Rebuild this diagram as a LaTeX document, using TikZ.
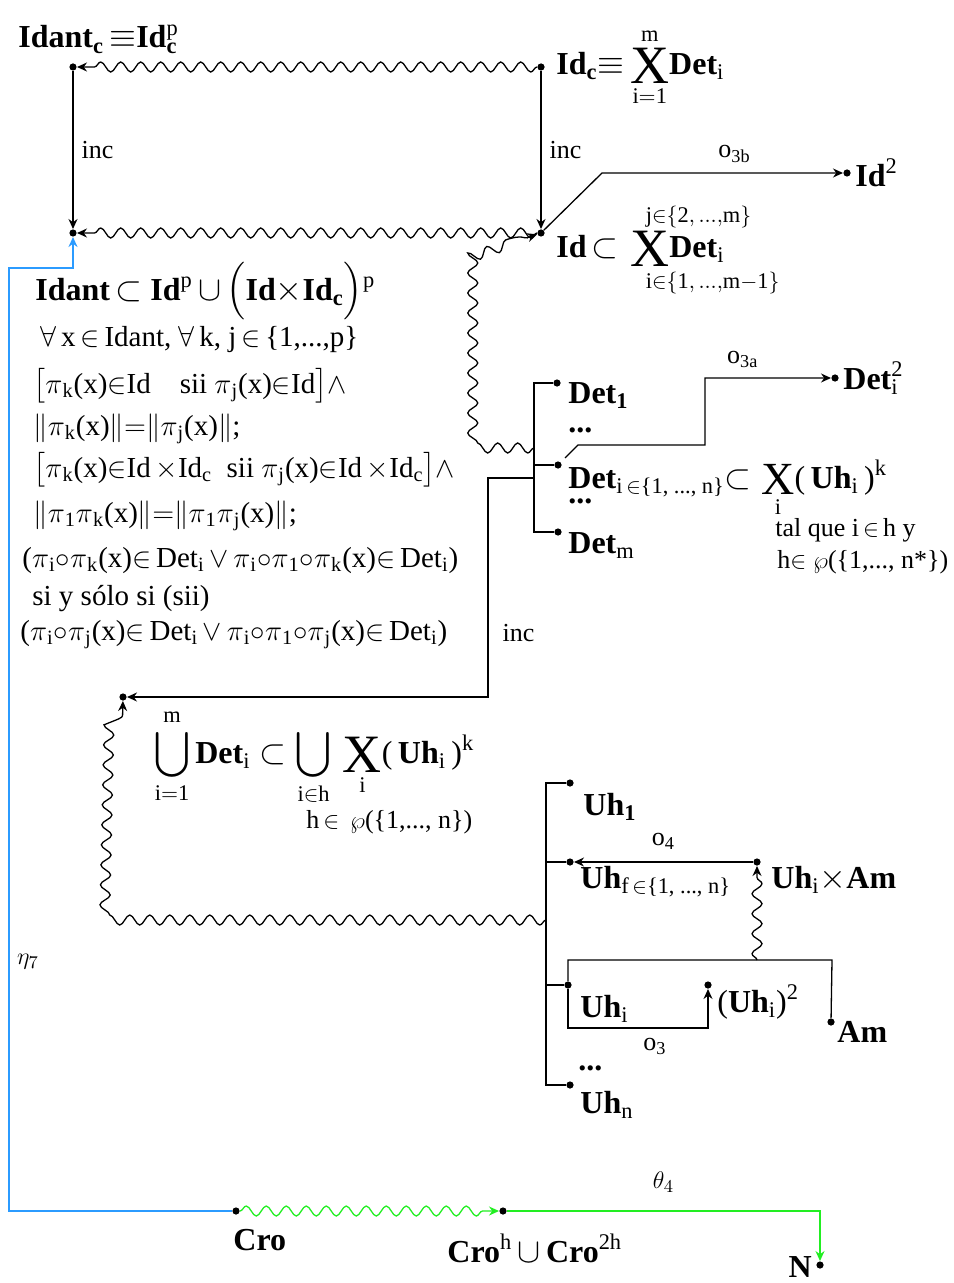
\documentclass[tikz,border=0pt]{standalone}
\usepackage{amsmath,amssymb,mathtools}
\usepackage{fontspec}
\setmainfont{Liberation Serif}
\usetikzlibrary{positioning,arrows.meta,decorations.pathmorphing}
\definecolor{skyline}{HTML}{2B9BFF}
\definecolor{limeline}{HTML}{22EE22}
\newcommand{\crossX}[1][27]{\mathop{\vcenter{\hbox{\mdseries\fontsize{#1}{#1}\selectfont X}}}\limits}
\tikzset{
  pt/.style={circle, fill=black, inner sep=0pt, minimum size=3.6pt},
  lab/.style={font=\fontsize{16}{19}\selectfont\bfseries, inner sep=0pt},
  txt/.style={font=\fontsize{13}{16}\selectfont, inner sep=0pt},
  fml/.style={font=\fontsize{14.5}{17}\selectfont, inner sep=0pt, anchor=base west},
  ln/.style={line width=0.65pt},
  ar/.style={ln, -{Stealth[length=5pt,width=4.5pt]}},
  wav/.style={ln, decorate, decoration={snake, amplitude=2.5pt, segment length=10pt, post length=5pt}},
  wavar/.style={wav, -{Stealth[length=5pt,width=4.5pt]}},
}
\begin{document}
\begin{tikzpicture}[x=0.5pt, y=-0.5pt]
\useasboundingbox (0,0) rectangle (953,1283);

% --- Id ---
\node[pt] (idantc) at (73,67) {};
\node[pt] (idc)    at (541,67) {};
\node[pt] (idant)  at (73,233) {};
\node[pt] (id)     at (541,233) {};
\node[pt] (idsq)   at (847,173) {};
\coordinate (o3bk) at (602,173);

\node[lab, anchor=base west] (lidantc) at (18,48)
  {Idant\textsubscript{c}\,$\equiv$Id\rlap{\textsubscript{c}}\textsuperscript{\mdseries p}};
\node[lab, anchor=west] (lidc) at (556,67)
  {Id\textsubscript{c}${\equiv}\displaystyle\crossX_{\mathrm{i=1}}^{\mathrm{m}}$Det\textsubscript{\mdseries i}};
\node[lab, anchor=west] (lid) at (556,250)
  {Id\,${\subset}\,\displaystyle\crossX_{\mathrlap{\kern-2pt\mathrm{i\in\{1,\,\ldots,m-1\}}}}^{\mathrlap{\kern-2pt\mathrm{j\in\{2,\,\ldots,m\}}}}$Det\textsubscript{\mdseries i}};
\node[lab, right=2pt of idsq] (lidsq) {Id\textsuperscript{\mdseries 2}};

\draw[wavar] (idc) -- (idantc);
\draw[ar] (idantc) -- node[txt, right=4pt] {inc} (idant);
\draw[ar] (idc) -- node[txt, right=4pt] {inc} (id);
\draw[wavar] (id) -- (idant);
\draw[ar] (id) -- (o3bk) -- node[txt, above=5pt, pos=0.55] {o\textsubscript{3b}} (idsq);

% --- Idant ---
\node[lab, anchor=base west] (f1) at (35,300)
  {Idant\,$\subset$\ Id\textsuperscript{\mdseries p}\,$\cup$\,$\Bigl($Id${\times}$Id\textsubscript{c}$\Bigr)$\textsuperscript{\mdseries p}};
\node[fml] (f2) at (40,346)
  {$\forall$\,x$\,\in\,$Idant, $\forall$\,k, j$\,\in\,$\{1,...,p\}};
\node[fml] (f3) at (33,393)
  {$\bigl[\pi$\textsubscript{k}(x)$\in$Id\quad sii $\pi$\textsubscript{j}(x)$\in$Id$\bigr]\wedge$};
\node[fml] (f4) at (33,435)
  {$\|\pi$\textsubscript{k}(x)$\|{=}\|\pi$\textsubscript{j}(x)$\|$;};
\node[fml] (f5) at (33,477)
  {$\bigl[\pi$\textsubscript{k}(x)$\in$Id$\,\times$Id\textsubscript{c}\ \ sii $\pi$\textsubscript{j}(x)$\in$Id$\,\times$Id\textsubscript{c}$\bigr]\wedge$};
\node[fml] (f6) at (33,522)
  {$\|\pi$\textsubscript{1}$\pi$\textsubscript{k}(x)$\|{=}\|\pi$\textsubscript{1}$\pi$\textsubscript{j}(x)$\|$;};
\node[fml] (f7) at (22,567)
  {($\pi$\textsubscript{i}$\circ\pi$\textsubscript{k}(x)$\in$\,Det\textsubscript{i}$\,\vee\,\pi$\textsubscript{i}$\circ\pi$\textsubscript{1}$\circ\pi$\textsubscript{k}(x)$\in$\,Det\textsubscript{i})};
\node[fml] (f8) at (32,605) {si y sólo si (sii)};
\node[fml] (f9) at (20,640)
  {($\pi$\textsubscript{i}$\circ\pi$\textsubscript{j}(x)$\in$\,Det\textsubscript{i}$\,\vee\,\pi$\textsubscript{i}$\circ\pi$\textsubscript{1}$\circ\pi$\textsubscript{j}(x)$\in$\,Det\textsubscript{i})};

% --- Det ---
\node[pt] (det1)  at (557,383) {};
\node[pt] (deti)  at (558,465) {};
\node[pt] (detm)  at (558,532) {};
\node[pt] (detsq) at (835,378) {};
\coordinate (dbt) at (534,383);
\coordinate (dbi) at (534,465);
\coordinate (dbb) at (534,532);
\coordinate (dbw) at (534,448);
\coordinate (dbinc) at (534,478);
\coordinate (w1) at (483,448);
\coordinate (w2) at (483,253);
\coordinate (i1) at (488,478);
\coordinate (i2) at (488,697);
\coordinate (a1) at (578,445);
\coordinate (a2) at (705,445);
\coordinate (a3) at (705,378);

\node[lab, anchor=base west] (ldet1) at (568,403) {Det\textsubscript{1}};
\node[lab, anchor=base west] at (568,432) {...};
\node[lab, anchor=base west] (ldeti) at (568,488)
  {Det\textsubscript{\mdseries i$\,\in$\{1, ..., n\}}$\subset\displaystyle\crossX[23]_{\mathrm{i}}${\mdseries(\,}Uh\textsubscript{\mdseries i}{\mdseries\,)}\textsuperscript{\mdseries k}};
\node[lab, anchor=base west] at (568,503) {...};
\node[lab, anchor=base west] (ldetm) at (568,553) {Det\textsubscript{\mdseries m}};
\node[lab, right=2pt of detsq] (ldetsq) {Det\rlap{\textsubscript{\mdseries i}}\textsuperscript{\mdseries 2}};
\node[txt, anchor=base west] (tq1) at (775,536) {tal que i$\,\in\,$h y};
\node[txt, anchor=base west] (tq2) at (777,568) {h$\in\wp$(\{1,..., n*\})};

\draw[ln] (det1) -- (dbt) -- (dbb) -- (detm);
\draw[ln] (dbi) -- (deti);
\draw[wavar] (dbw) -- (w1) -- (w2) -- (id);
\draw[ar, shorten <=3pt] (deti) -- (a1) -- (a2) -- (a3) -- node[txt, above=5pt, pos=0.3] {o\textsubscript{3a}} (detsq);

% --- union ---
\node[pt] (uni) at (123,697) {};
\node[lab, anchor=west] (luni) at (154,757)
  {$\displaystyle\bigcup_{\mathrm{i=1}}^{\mathrm{m}}$\,Det\textsubscript{\mdseries i}\;$\subset\displaystyle\bigcup_{\mathrm{i\in h}}\,\crossX_{\mathrm{i}}${\mdseries(\,}Uh\textsubscript{\mdseries i}{\mdseries\,)}\textsuperscript{\mdseries k}};
\node[txt, anchor=base west] (lh) at (306,828) {h$\,\in\,\wp$(\{1,..., n\})};
\draw[ar] (dbinc) -- (i1) -- node[txt, right=7pt, pos=0.71] {inc} (i2) -- (uni);

% --- Uh ---
\node[pt] (uh1)  at (570,783) {};
\node[pt] (uhf)  at (570,862) {};
\node[pt] (uhi)  at (568,985) {};
\node[pt] (uhn)  at (570,1085) {};
\node[pt] (uham) at (757,862) {};
\node[pt] (uhsq) at (708,985) {};
\node[pt] (am)   at (831,1022) {};
\coordinate (ubt) at (546,783);
\coordinate (ubf) at (546,862);
\coordinate (ubi) at (546,985);
\coordinate (ubb) at (546,1085);
\coordinate (ubw) at (546,920);
\coordinate (v1) at (118,920);
\coordinate (ja) at (568,960);
\coordinate (jm) at (757,960);
\coordinate (jb) at (832,960);
\coordinate (c1) at (568,1028);
\coordinate (c2) at (708,1028);

\node[lab, anchor=base west] (luh1) at (583,815) {Uh\textsubscript{1}};
\node[lab, anchor=base west] (luhf) at (580,888) {Uh\textsubscript{\mdseries f$\,\in$\{1, ..., n\}}};
\node[lab, anchor=base west] (luham) at (771,888) {Uh\textsubscript{\mdseries i}$\times$Am};
\node[lab, anchor=base west] (luhi) at (580,1017) {Uh\textsubscript{\mdseries i}};
\node[lab, anchor=base west] (luhsq) at (717,1012) {{\mdseries(}Uh\textsubscript{\mdseries i}{\mdseries)}\textsuperscript{\mdseries 2}};
\node[lab, anchor=base west] (lam) at (837,1042) {Am};
\node[lab, anchor=base west] at (578,1070) {...};
\node[lab, anchor=base west] (luhn) at (580,1113) {Uh\textsubscript{\mdseries n}};

\draw[ln] (uh1) -- (ubt) -- (ubb) -- (uhn);
\draw[ln] (ubf) -- (uhf);
\draw[ln] (ubi) -- (uhi);
\draw[wavar] (ubw) -- (v1) -- (uni);
\draw[ar] (uham) -- node[txt, above=6pt] {o\textsubscript{4}} (uhf);
\draw[ln] (uhi) -- (ja) -- (jb) -- (am);
\draw[wavar] (jm) -- (uham);
\draw[ar] (uhi) -- (c1) -- node[txt, below=5pt, pos=0.62] {o\textsubscript{3}} (c2) -- (uhsq);

% --- Cro ---
\node[pt] (cro)  at (236,1211) {};
\node[pt] (croh) at (503,1211) {};
\node[pt] (nn)   at (820,1265) {};
\coordinate (g1) at (820,1211);
\coordinate (b1) at (9,1211);
\coordinate (b2) at (9,268);
\coordinate (b3) at (73,268);

\node[lab, anchor=base west] (lcro) at (233,1250) {Cro};
\node[lab, anchor=base west] (lcroh) at (447,1262)
  {Cro\textsuperscript{\mdseries h}\,$\cup$\,Cro\textsuperscript{\mdseries 2h}};
\node[lab, anchor=base east] (lnn) at (812,1277) {N};
\node[txt] (eta) at (28,962) {$\eta_7$};

\draw[ar, skyline, line width=1pt] (cro) -- (b1) -- (b2) -- (b3) -- (idant);
\draw[wavar, limeline] (cro) -- (croh);
\draw[ar, limeline] (croh) -- node[txt, text=black, above=9pt] {$\theta_4$} (g1) -- (nn);

\end{tikzpicture}
\end{document}
